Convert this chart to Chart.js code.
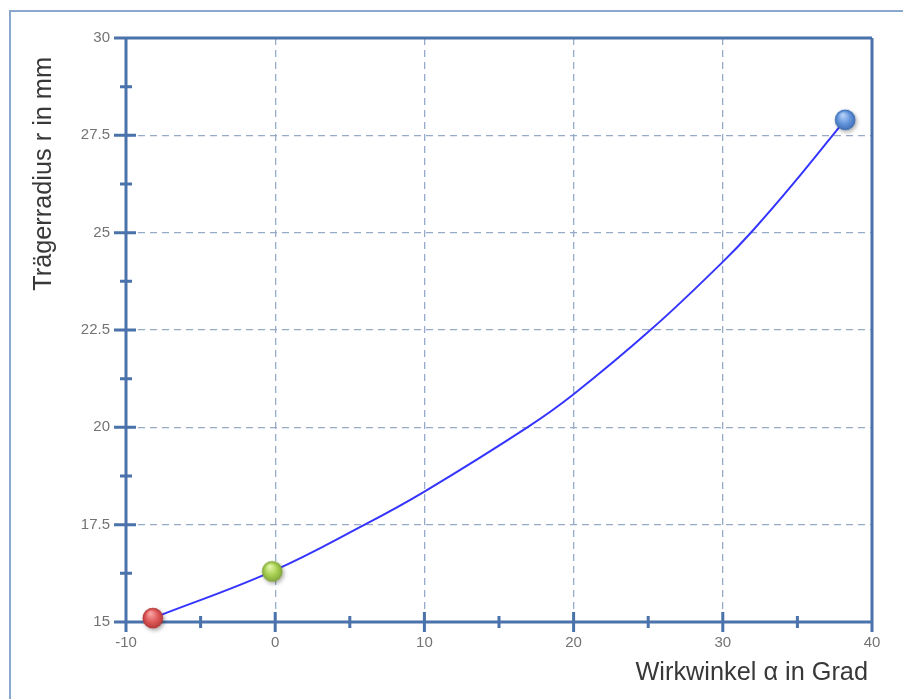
<!DOCTYPE html>
<html>
<head>
<meta charset="utf-8">
<title>Trägerradius über Wirkwinkel</title>
<script src="https://cdn.jsdelivr.net/npm/chart.js@4.4.1/dist/chart.umd.min.js"></script>
<style>
  html, body { margin: 0; padding: 0; background: #ffffff; }
  #wrap { position: relative; width: 903px; height: 699px; overflow: hidden; }
  #frame {
    position: absolute; left: 9px; top: 10px; width: 1000px; height: 1000px;
    border-left: 2px solid #8aa7ce; border-top: 2px solid #8aa7ce;
  }
  #c { position: absolute; left: 0; top: 0; }
</style>
</head>
<body>
<div id="wrap">
  <div id="frame"></div>
  <canvas id="c" width="903" height="699"></canvas>
</div>
<script>
// Trägerradius r (mm) as a function of Wirkwinkel α (Grad)
const curveAlpha  = [-8.2, -0.2, 6, 10, 16.9, 20, 25.3, 30, 32, 34.75, 38.2];
const curveRadius = [15.1, 16.3, 17.5, 18.35, 20, 20.85, 22.55, 24.25, 25.05, 26.27, 27.9];

// highlighted operating points
const markerAlpha  = [-8.2, -0.2, 38.2];
const markerRadius = [15.1, 16.3, 27.9];

// axis ticks
const xTickValues = [-10, 0, 10, 20, 30, 40];
const yTickValues = [15, 17.5, 20, 22.5, 25, 27.5, 30];

const xTitle = 'Wirkwinkel α in Grad';
const yTitle = 'Trägerradius r in mm';

const AXIS_COLOR = '#4a73ab';
const GRID_COLOR = '#97abc9';
const LABEL_COLOR = '#737373';
const TITLE_COLOR = '#383838';
const FONT = '"Liberation Sans", Arial, sans-serif';

// glossy ball used as point style
function makeBall(light, base, dark) {
  const size = 34;
  const c = document.createElement('canvas');
  c.width = size; c.height = size;
  const g = c.getContext('2d');
  const cx = size / 2, cy = size / 2, r = 10.3;
  g.save();
  g.shadowColor = 'rgba(0,0,0,0.33)';
  g.shadowBlur = 4;
  g.shadowOffsetX = 1.5;
  g.shadowOffsetY = 2;
  g.beginPath(); g.arc(cx, cy, r, 0, Math.PI * 2);
  g.fillStyle = dark; g.fill();
  g.restore();
  const grad = g.createRadialGradient(cx - 2.5, cy - 5, 1, cx, cy, r);
  grad.addColorStop(0, light);
  grad.addColorStop(0.55, base);
  grad.addColorStop(1, dark);
  g.beginPath(); g.arc(cx, cy, r - 0.6, 0, Math.PI * 2);
  g.fillStyle = grad; g.fill();
  g.lineWidth = 1; g.strokeStyle = dark; g.stroke();
  return c;
}

const markerStyles = [
  makeBall('#f7a3a3', '#e05b5b', '#b63a3a'),
  makeBall('#e2f5a8', '#a9d153', '#82a73a'),
  makeBall('#b3d0f6', '#6697dd', '#3f6fb6')
];

// axis frame with major and minor tick marks
const axisFrame = {
  id: 'axisFrame',
  beforeDatasetsDraw(chart) {
    const { ctx, scales: { x, y } } = chart;
    const L = x.getPixelForValue(x.min), R = x.getPixelForValue(x.max);
    const T = y.getPixelForValue(y.max), B = y.getPixelForValue(y.min);
    ctx.save();
    ctx.strokeStyle = AXIS_COLOR;
    ctx.lineWidth = 3;
    ctx.lineCap = 'butt';
    ctx.beginPath();
    // box
    ctx.moveTo(L, T); ctx.lineTo(R, T);
    ctx.moveTo(R, T); ctx.lineTo(R, B);
    ctx.moveTo(L, B); ctx.lineTo(R, B);
    ctx.moveTo(L, T); ctx.lineTo(L, B);
    // major y ticks
    yTickValues.forEach(v => {
      const py = y.getPixelForValue(v);
      ctx.moveTo(L - 12, py); ctx.lineTo(L + 10, py);
    });
    // minor y ticks
    for (let i = 0; i < yTickValues.length - 1; i++) {
      const py = y.getPixelForValue((yTickValues[i] + yTickValues[i + 1]) / 2);
      ctx.moveTo(L - 6, py); ctx.lineTo(L + 6, py);
    }
    // major x ticks
    xTickValues.forEach(v => {
      const px = x.getPixelForValue(v);
      ctx.moveTo(px, B - 10); ctx.lineTo(px, B + 10);
    });
    // minor x ticks
    for (let i = 0; i < xTickValues.length - 1; i++) {
      const px = x.getPixelForValue((xTickValues[i] + xTickValues[i + 1]) / 2);
      ctx.moveTo(px, B - 6); ctx.lineTo(px, B + 6);
    }
    ctx.stroke();
    ctx.restore();
  },
  afterDraw(chart) {
    const { ctx, scales: { x, y } } = chart;
    const R = x.getPixelForValue(x.max);
    const T = y.getPixelForValue(y.max);
    ctx.save();
    ctx.fillStyle = TITLE_COLOR;
    ctx.font = '25.3px ' + FONT;
    // x axis title, right aligned to the axis end
    ctx.textAlign = 'right';
    ctx.textBaseline = 'alphabetic';
    ctx.fillText(xTitle, R - 4, 680);
    // y axis title, rotated, ending near the top
    ctx.translate(51, T + 19);
    ctx.rotate(-Math.PI / 2);
    ctx.textAlign = 'right';
    ctx.fillText(yTitle, 0, 0);
    ctx.restore();
  }
};

new Chart(document.getElementById('c'), {
  type: 'scatter',
  data: {
    datasets: [
      {
        label: 'Punkte',
        data: markerAlpha.map((a, i) => ({ x: a, y: markerRadius[i] })),
        pointStyle: markerStyles,
        pointRadius: 10,
        showLine: false,
        clip: false,
        order: 0
      },
      {
        label: 'r(α)',
        data: curveAlpha.map((a, i) => ({ x: a, y: curveRadius[i] })),
        showLine: true,
        borderColor: '#3535ff',
        borderWidth: 2,
        pointRadius: 0,
        fill: false,
        tension: 0.4,
        order: 1
      }
    ]
  },
  options: {
    responsive: false,
    animation: false,
    layout: { padding: { left: 0, top: 38, right: 31, bottom: 0 } },
    plugins: {
      legend: { display: false },
      tooltip: { enabled: false }
    },
    scales: {
      x: {
        type: 'linear',
        min: xTickValues[0],
        max: xTickValues[xTickValues.length - 1],
        afterBuildTicks: s => { s.ticks = xTickValues.map(v => ({ value: v })); },
        afterFit: s => { s.height = 77; },
        grid: { color: GRID_COLOR, lineWidth: 1.3, drawTicks: false },
        border: { display: false, dash: [7, 5] },
        ticks: { color: LABEL_COLOR, font: { family: FONT, size: 15 }, padding: 12, maxRotation: 0 }
      },
      y: {
        type: 'linear',
        min: yTickValues[0],
        max: yTickValues[yTickValues.length - 1],
        afterBuildTicks: s => { s.ticks = yTickValues.map(v => ({ value: v })); },
        afterFit: s => { s.width = 126; },
        grid: { color: GRID_COLOR, lineWidth: 1.3, drawTicks: false },
        border: { display: false, dash: [7, 5] },
        ticks: { color: LABEL_COLOR, font: { family: FONT, size: 15 }, padding: 16 }
      }
    }
  },
  plugins: [axisFrame]
});
</script>
</body>
</html>
